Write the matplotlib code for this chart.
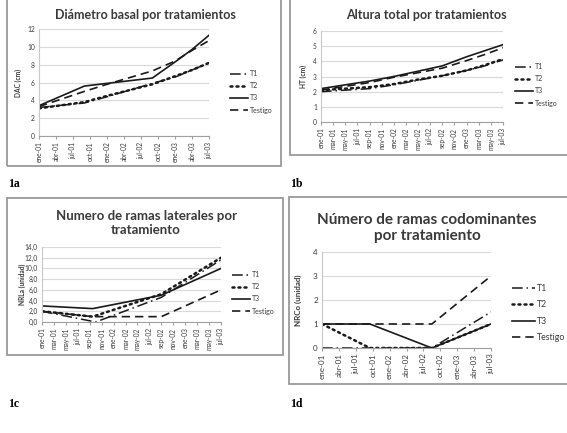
import numpy as np
import matplotlib
matplotlib.use("Agg")
import matplotlib.pyplot as plt
from matplotlib.patches import Rectangle

plt.rcParams['font.family'] = ['Lato', 'DejaVu Sans']

# ---- data (months counted from ene-01) ----
ticks_q = ['ene-01', 'abr-01', 'jul-01', 'oct-01', 'ene-02', 'abr-02', 'jul-02',
           'oct-02', 'ene-03', 'abr-03', 'jul-03']
ticks_m = ['ene-01', 'mar-01', 'may-01', 'jul-01', 'sep-01', 'nov-01', 'ene-02', 'mar-02',
           'may-02', 'jul-02', 'sep-02', 'nov-02', 'ene-03', 'mar-03', 'may-03', 'jul-03']
series_names = ['T1', 'T2', 'T3', 'Testigo']

# 1a diametro basal
months_a = [0, 8, 12, 20, 24, 27, 30]
dac_t1 = [3.2, 3.7, 4.4, 5.9, 6.6, 7.4, 8.2]
dac_t2 = [3.1, 3.8, 4.5, 5.8, 6.7, 7.4, 8.2]
dac_t3 = [3.4, 5.6, 5.9, 6.5, 8.3, 9.7, 11.3]
dac_testigo = [3.3, 5.0, 5.8, 7.3, 8.4, 9.6, 10.7]

# 1b altura total
months_b = [0, 8, 12, 16, 20, 24, 27, 30]
ht_t1 = [2.0, 2.2, 2.45, 2.75, 3.05, 3.4, 3.7, 4.1]
ht_t2 = [2.1, 2.3, 2.5, 2.8, 3.05, 3.4, 3.75, 4.15]
ht_t3 = [2.2, 2.7, 3.0, 3.35, 3.7, 4.3, 4.7, 5.1]
ht_testigo = [2.1, 2.6, 2.95, 3.25, 3.55, 4.05, 4.45, 4.9]

# 1c ramas laterales
months_c_t1 = [0, 9, 20, 30]
months_c = [0, 8.5, 20, 30]
nrla_t1 = [2.0, 0.0, 4.6, 11.6]
nrla_t2 = [2.0, 1.0, 5.2, 12.0]
nrla_t3 = [3.0, 2.5, 5.0, 10.0]
nrla_testigo = [2.0, 1.0, 1.0, 6.0]

# 1d ramas codominantes
months_d = [0, 8.5, 19.5, 30]
nrco_t1 = [0, 0, 0, 1.5]
nrco_t2 = [1, 0, 0, 1]
nrco_t3 = [1, 1, 0, 1]
nrco_testigo = [1, 1, 1, 3]

yt_a = [0, 2, 4, 6, 8, 10, 12]
yt_b = [0, 1, 2, 3, 4, 5, 6]
yt_c = [0, 2, 4, 6, 8, 10, 12, 14]
yt_c_labels = ['0,0', '2,0', '4,0', '6,0', '8,0', '10,0', '12,0', '14,0']
yt_d = [0, 1, 2, 3, 4]

W, H = 567, 433
fig = plt.figure(figsize=(W / 100, H / 100), dpi=100)

LC = '#1a1a1a'
TXT = '#3a3a3a'
styles = [
    dict(ls=(0, (7, 2.5, 1, 2.5)), lw=1.1),
    dict(ls=(0, (0.8, 1.6)), lw=1.8, dash_capstyle='round'),
    dict(ls='-', lw=1.2),
    dict(ls=(0, (5, 3)), lw=1.2),
]


def box(x0, y0, x1, y1):
    fig.patches.append(Rectangle((x0 / W, 1 - y1 / H), (x1 - x0) / W, (y1 - y0) / H,
                                 transform=fig.transFigure, fill=False,
                                 edgecolor='#9a9a9a', lw=1.3))


def panel(rect, xs_list, ys_list, xt, xlabels, yt, ylabels, ylim, title, ylabel,
          tfs, tick_fs, ylab_x, leg_x, leg_y, leg_fs, leg_sp, title_x, title_y):
    l, r, t, b = rect
    ax = fig.add_axes([l / W, 1 - b / H, (r - l) / W, (b - t) / H])
    for xs, ys, st, name in zip(xs_list, ys_list, styles, series_names):
        ax.plot(xs, ys, color=LC, label=name, **st)
    ax.set_xlim(0, 30)
    ax.set_ylim(*ylim)
    ax.set_xticks(xt)
    ax.set_xticklabels(xlabels, rotation=90, fontsize=tick_fs, color=TXT)
    ax.set_yticks(yt)
    ax.set_yticklabels(ylabels, fontsize=tick_fs, color=TXT)
    ax.grid(axis='y', color='#d9d9d9', lw=0.8)
    ax.set_axisbelow(True)
    for s in ['top', 'right']:
        ax.spines[s].set_visible(False)
    ax.spines['left'].set_color('#c8c8c8')
    ax.spines['bottom'].set_color('#a0a0a0')
    ax.tick_params(axis='y', length=0, pad=3)
    ax.tick_params(axis='x', length=2.5, color='#a0a0a0', pad=1.5)
    fig.text(ylab_x / W, 1 - (t + b) / 2 / H, ylabel, rotation=90, ha='center',
             va='center', fontsize=tick_fs, fontweight='bold', color=TXT)
    fig.text(title_x / W, 1 - title_y / H, title, ha='center', va='center',
             fontsize=tfs, fontweight='bold', color=TXT, linespacing=1.15)
    ax.legend(loc='upper left', bbox_to_anchor=(leg_x / W, 1 - leg_y / H),
              bbox_transform=fig.transFigure, frameon=False, fontsize=leg_fs,
              handlelength=2.6, handletextpad=0.3, labelspacing=leg_sp,
              borderpad=0, borderaxespad=0, labelcolor=TXT)
    return ax


box(7, -1, 281, 166)
box(290, -1, 568, 155)
box(7, 198, 283, 355)
box(289, 197, 568, 384)

panel((39, 209, 29, 136), [months_a] * 4, [dac_t1, dac_t2, dac_t3, dac_testigo],
      np.arange(0, 31, 3), ticks_q, yt_a, [str(v) for v in yt_a], (0, 12),
      'Diámetro basal por tratamientos', 'DAC (cm)', 9, 4.8, 18,
      230, 70, 5, 0.75, 145, 15)

panel((321, 503, 31, 122), [months_b] * 4, [ht_t1, ht_t2, ht_t3, ht_testigo],
      np.arange(0, 31, 2), ticks_m, yt_b, [str(v) for v in yt_b], (0, 6),
      'Altura total por tratamientos', 'HT (cm)', 9, 4.8, 303,
      515, 63, 5, 0.75, 426, 15)

panel((42, 221, 247, 322), [months_c_t1, months_c, months_c, months_c],
      [nrla_t1, nrla_t2, nrla_t3, nrla_testigo],
      np.arange(0, 31, 2), ticks_m, yt_c, yt_c_labels, (0, 14),
      'Numero de ramas laterales por\ntratamiento', 'NRLa (unidad)', 9.5, 4.8, 22,
      232, 271, 5, 0.75, 146, 223)

panel((322, 491, 252, 348), [months_d] * 4, [nrco_t1, nrco_t2, nrco_t3, nrco_testigo],
      np.arange(0, 31, 3), ticks_q, yt_d, [str(v) for v in yt_d], (0, 4),
      'Número de ramas codominantes\npor tratamiento', 'NRCo (unidad)', 11, 5.8, 298,
      512, 284, 6.3, 0.85, 427, 228)

for lab, x, y in [('1a', 8, 184), ('1b', 290, 184), ('1c', 8, 404), ('1d', 290, 404)]:
    fig.text(x / W, 1 - y / H, lab, fontsize=8.5, fontweight='bold',
             family='Liberation Serif', ha='left', va='center')

fig.savefig('out.png', dpi=100)
